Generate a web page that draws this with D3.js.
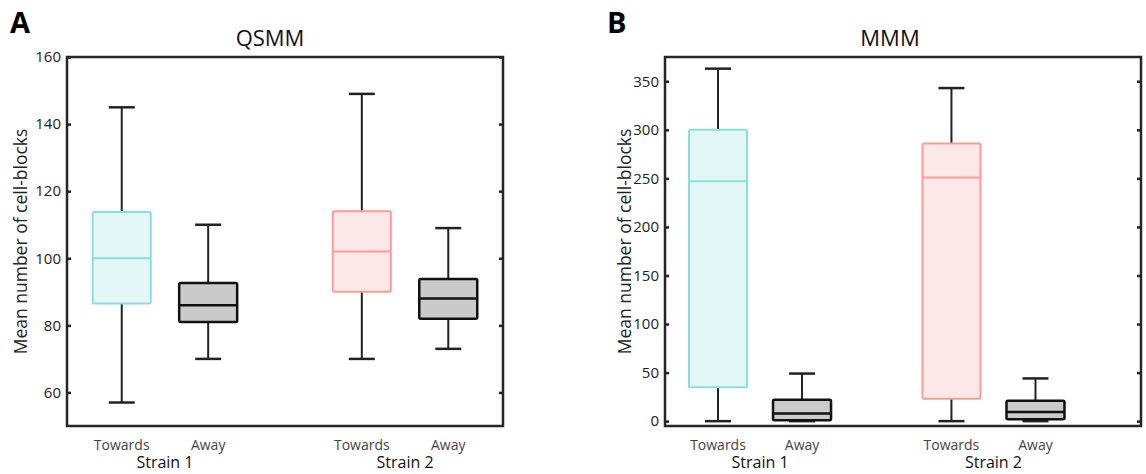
<!DOCTYPE html>
<html>
<head>
<meta charset="utf-8">
<script src="https://cdn.jsdelivr.net/npm/d3@7"></script>
<style>
	body { margin: 0; background: #fff; }
	svg text { font-family: "Open Sans", sans-serif; }
</style>
</head>
<body>
<div id="graph"></div>
<script>
// box stats per box: [lower whisker, q1, median, q3, upper whisker]
// order: Strain 1 Towards, Strain 1 Away, Strain 2 Towards, Strain 2 Away
var strains = ["Strain 1", "Strain 2"];
var directions = ["Towards", "Away"];
var qsmmStats = [
	[57, 86.5, 100, 113.8, 145],
	[70, 81, 86, 92.6, 110],
	[70, 90, 102, 114, 149],
	[73, 82, 88, 93.8, 109]
];
var mmmStats = [
	[0, 35, 247, 300, 363],
	[0, 1, 8, 22, 49],
	[0, 23, 251, 286, 343],
	[0, 2, 9.5, 21, 44]
];
var qsmmTicks = [60, 80, 100, 120, 140, 160];
var mmmTicks = [0, 50, 100, 150, 200, 250, 300, 350];

var colours = {
	Towards: [{stroke: "#86e0dd", fill: "#e4f7f7"}, {stroke: "#ff9c9a", fill: "#fde8e9"}],
	Away: {stroke: "#111", fill: "#cacaca"}
};

var svg = d3.select("#graph").append("svg")
	.attr("width", 1146)
	.attr("height", 474);

function drawPanel(p) {
	var g = svg.append("g");

	// strain groups sit at 1 and 2, boxes offset either side
	var x = d3.scaleLinear().domain(p.xDomain).range([p.left, p.right]);
	var y = d3.scaleLinear().domain(p.yDomain).range([p.bottom, p.top]);
	var offset = 0.18;
	var boxW = 58, capW = 26;

	g.append("g")
		.attr("class", "axis")
		.attr("transform", "translate(" + p.left + ",0)")
		.call(d3.axisLeft(y).tickValues(p.ticks).tickSize(-4).tickPadding(6))
		.call(function(a) {
			a.select(".domain").remove();
			a.selectAll("line").attr("stroke", "#222").attr("stroke-width", 2.5);
			a.selectAll("text").attr("font-size", 15).attr("fill", "#222")
				.attr("font-family", "Open Sans, sans-serif");
		});
	g.append("g")
		.attr("transform", "translate(" + p.right + ",0)")
		.call(d3.axisRight(y).tickValues(p.ticks).tickSize(-4).tickFormat(""))
		.call(function(a) {
			a.select(".domain").remove();
			a.selectAll("line").attr("stroke", "#222").attr("stroke-width", 2.5);
		});

	p.stats.forEach(function(s, i) {
		var si = Math.floor(i / 2), dir = directions[i % 2];
		var cx = x(si + 1 + (i % 2 ? offset : -offset));
		var col = dir == "Away" ? colours.Away : colours.Towards[si];
		var b = g.append("g");
		// whiskers
		b.append("line").attr("x1", cx).attr("x2", cx).attr("y1", y(s[0])).attr("y2", y(s[1]))
			.attr("stroke", "#222").attr("stroke-width", 2);
		b.append("line").attr("x1", cx).attr("x2", cx).attr("y1", y(s[3])).attr("y2", y(s[4]))
			.attr("stroke", "#222").attr("stroke-width", 2);
		[s[0], s[4]].forEach(function(v) {
			b.append("line").attr("x1", cx - capW / 2).attr("x2", cx + capW / 2)
				.attr("y1", y(v)).attr("y2", y(v))
				.attr("stroke", "#222").attr("stroke-width", 2.5);
		});
		b.append("rect")
			.attr("x", cx - boxW / 2).attr("width", boxW)
			.attr("y", y(s[3])).attr("height", y(s[1]) - y(s[3]))
			.attr("rx", 1.5)
			.attr("fill", col.fill).attr("stroke", col.stroke)
			.attr("stroke-width", dir == "Away" ? 2.5 : 2);
		b.append("line").attr("x1", cx - boxW / 2).attr("x2", cx + boxW / 2)
			.attr("y1", y(s[2])).attr("y2", y(s[2]))
			.attr("stroke", col.stroke).attr("stroke-width", dir == "Away" ? 2.5 : 2);

		g.append("text").attr("x", cx).attr("y", 450)
			.attr("text-anchor", "middle").attr("font-size", 14).attr("fill", "#444")
			.text(dir);
	});

	strains.forEach(function(s, i) {
		g.append("text").attr("x", x(i + 1)).attr("y", 468)
			.attr("text-anchor", "middle").attr("font-size", 16).attr("fill", "#111")
			.text(s);
	});

	// frame
	g.append("rect")
		.attr("x", p.left).attr("y", p.top)
		.attr("width", p.right - p.left).attr("height", p.bottom - p.top)
		.attr("fill", "none").attr("stroke", "#262626").attr("stroke-width", 2.5);

	g.append("text")
		.attr("transform", "translate(" + p.yLabelX + "," + (p.top + p.bottom) / 2 + ") rotate(-90)")
		.attr("text-anchor", "middle").attr("font-size", 17.5).attr("fill", "#222")
		.text("Mean number of cell-blocks");

	g.append("text").attr("x", p.titleX).attr("y", 46)
		.attr("text-anchor", "middle").attr("font-size", 22)
		.attr("font-family", "Liberation Sans, Arial, sans-serif").attr("fill", "#111")
		.text(p.title);

	g.append("text").attr("x", p.letterX).attr("y", 33)
		.attr("font-size", 29).attr("font-weight", "bold")
		.attr("font-family", "Liberation Sans, Arial, sans-serif").attr("fill", "#000")
		.text(p.letter);
}

drawPanel({
	letter: "A", letterX: 10, title: "QSMM", titleX: 270,
	left: 67, right: 503, top: 57, bottom: 426,
	xDomain: [0.592, 2.408], yDomain: [50, 160],
	ticks: qsmmTicks, stats: qsmmStats, yLabelX: 27
});
drawPanel({
	letter: "B", letterX: 607, title: "MMM", titleX: 890,
	left: 665, right: 1141, top: 57, bottom: 426,
	xDomain: [0.593, 2.632], yDomain: [-5, 375],
	ticks: mmmTicks, stats: mmmStats, yLabelX: 631
});
</script>
</body>
</html>
